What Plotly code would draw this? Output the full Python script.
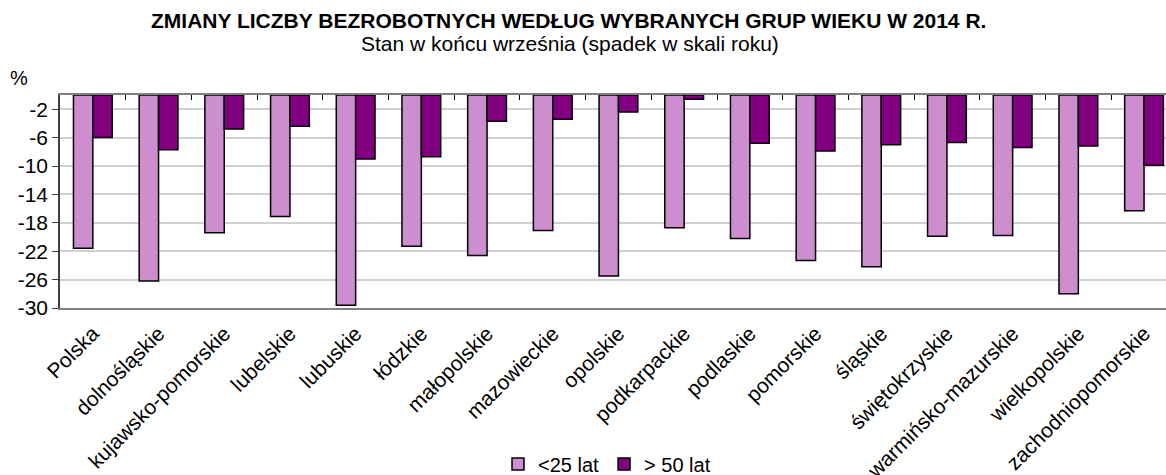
import plotly.graph_objects as go

categories = ["Polska", "dolnośląskie", "kujawsko-pomorskie", "lubelskie", "lubuskie",
              "łódzkie", "małopolskie", "mazowieckie", "opolskie", "podkarpackie",
              "podlaskie", "pomorskie", "śląskie", "świętokrzyskie", "warmińsko-mazurskie",
              "wielkopolskie", "zachodniopomorskie"]
under25 = [-21.6, -26.2, -19.4, -17.1, -29.6, -21.3, -22.6, -19.1, -25.5, -18.7,
           -20.2, -23.3, -24.2, -19.9, -19.8, -28.0, -16.3]
over50 = [-6.0, -7.7, -4.8, -4.4, -9.0, -8.7, -3.7, -3.4, -2.4, -0.6,
          -6.8, -7.9, -7.0, -6.7, -7.4, -7.2, -9.9]
ytick_vals = [-2, -6, -10, -14, -18, -22, -26, -30]

W, H = 1166, 475
L, R, T, B = 60, 0, 95, 167
pw = W - L - R
ph = H - T - B
cat_px = 65.7
xmax = -0.5 + pw / cat_px

font = "Liberation Sans, Arial, sans-serif"

fig = go.Figure()
fig.add_trace(go.Bar(x=categories, y=under25, name="<25 lat",
                     marker=dict(color="#CC8ECE", line=dict(color="#000000", width=1.5))))
fig.add_trace(go.Bar(x=categories, y=over50, name="> 50 lat",
                     marker=dict(color="#800080", line=dict(color="#000000", width=1.5))))
# invisible trace for top axis with tick marks between categories
fig.add_trace(go.Scatter(x=[0], y=[0], xaxis="x2", mode="markers",
                         marker=dict(opacity=0), showlegend=False, hoverinfo="skip"))

fig.update_layout(
    width=W, height=H,
    margin=dict(l=L, r=R, t=T, b=B, autoexpand=False),
    paper_bgcolor="white", plot_bgcolor="white",
    barmode="group", bargap=0.41, bargroupgap=0,
    font=dict(family=font, size=21, color="#000000"),
    showlegend=True,
    legend=dict(orientation="h", x=(607 - L) / pw, xanchor="center",
                y=-(464 - (T + ph)) / ph, yanchor="middle",
                font=dict(size=20), itemwidth=30, traceorder="normal",
                bgcolor="rgba(0,0,0,0)"),
    xaxis=dict(type="category", range=[-0.5, xmax], tickangle=-45,
               showline=True, linecolor="#808080", linewidth=2,
               ticks="", showgrid=False, ticklabelstandoff=3, automargin=False,
               tickfont=dict(size=21, family=font)),
    xaxis2=dict(overlaying="x", side="top", anchor="y", range=[-0.5, xmax],
                tickmode="linear", tick0=0.5, dtick=1, ticks="inside", ticklen=5,
                tickcolor="#000000", tickwidth=1, showticklabels=False,
                showline=True, linecolor="#808080", linewidth=1.5, automargin=False,
                showgrid=False, zeroline=False),
    yaxis=dict(range=[-30, 0], tickmode="array", tickvals=ytick_vals,
               ticktext=[str(v) for v in ytick_vals],
               showline=True, linecolor="#404040", linewidth=1.5,
               ticks="outside", ticklen=6, tickcolor="#404040", automargin=False,
               showgrid=True, gridcolor="#D0D0D0", gridwidth=1.5,
               zeroline=False, tickfont=dict(size=21, family=font)),
    annotations=[
        dict(text="<b>ZMIANY LICZBY BEZROBOTNYCH WEDŁUG WYBRANYCH GRUP WIEKU W 2014 R.</b>",
             xref="paper", yref="paper", x=(568 - L) / pw, y=1 + (T - 21) / ph,
             xanchor="center", yanchor="middle", showarrow=False,
             font=dict(size=21, family=font)),
        dict(text="Stan w końcu września (spadek w skali roku)",
             xref="paper", yref="paper", x=(570 - L) / pw, y=1 + (T - 43) / ph,
             xanchor="center", yanchor="middle", showarrow=False,
             font=dict(size=21, family=font)),
        dict(text="%", xref="paper", yref="paper", x=(19 - L) / pw, y=1 + (T - 78) / ph,
             xanchor="center", yanchor="middle", showarrow=False,
             font=dict(size=20, family=font)),
    ],
)

fig.write_html("out.html", config={"displayModeBar": False},
               post_script="document.body.style.margin='0';document.body.style.overflow='hidden';")
